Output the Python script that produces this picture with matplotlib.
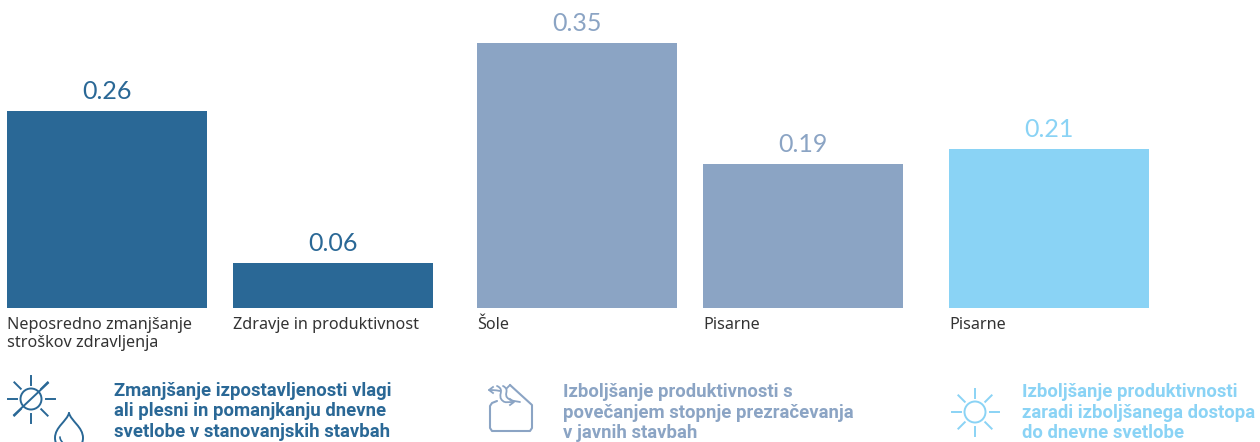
import numpy as np
from matplotlib import pyplot as plt
from matplotlib.patches import Circle, PathPatch
from matplotlib.path import Path

# values
categories = ["Neposredno zmanjšanje\nstroškov zdravljenja", "Zdravje in produktivnost", "Šole", "Pisarne", "Pisarne"]
values = [0.26, 0.06, 0.35, 0.19, 0.21]
value_labels = ["0.26", "0.06", "0.35", "0.19", "0.21"]
headings = [
    ["Zmanjšanje izpostavljenosti vlagi", "ali plesni in pomanjkanju dnevne", "svetlobe v stanovanjskih stavbah"],
    ["Izboljšanje produktivnosti s", "povečanjem stopnje prezračevanja", "v javnih stavbah"],
    ["Izboljšanje produktivnosti", "zaradi izboljšanega dostopa", "do dnevne svetlobe"],
]

dark = "#2a6896"
mid = "#8ba4c4"
light = "#8ad3f5"
bar_colors = [dark, dark, mid, mid, light]
bar_left = [7, 233, 477, 703, 949]
bar_width = 200
heading_x = [114, 563, 1022]
heading_y = [396, 397, 397]
heading_step = [20.5, 20.5, 20.5]
heading_colors = [dark, mid, light]

fig = plt.figure(figsize=(12.6, 4.42), dpi=100)

# bars, one data unit is 757 pixels and the baseline sits at pixel 308
ax = fig.add_axes([0, 0, 1, 1])
ax.set_xlim(0, 1260)
ax.set_ylim(-134 / 757, 308 / 757)
ax.axis("off")
ax.bar(bar_left, values, width=bar_width, align="edge", color=bar_colors)
for x, v, lab, c in zip(bar_left, values, value_labels, bar_colors):
    ax.annotate(lab, (x + bar_width / 2, v), xytext=(0, 8), textcoords="offset pixels",
                ha="center", va="bottom", color=c, fontsize=18, family="Lato")

# overlay in pixel coordinates for the labels and icons
ov = fig.add_axes([0, 0, 1, 1])
ov.set_xlim(0, 1260)
ov.set_ylim(442, 0)
ov.axis("off")
ov.patch.set_alpha(0)

for x, cat in zip(bar_left, categories):
    for i, line in enumerate(cat.split("\n")):
        ov.text(x, 329 + i * 18, line, color="#333333", fontsize=11.65, family="Noto Sans", va="baseline")

for x, y0, step, lines, c in zip(heading_x, heading_y, heading_step, headings, heading_colors):
    for i, line in enumerate(lines):
        ov.text(x, y0 + i * step, line, color=c, fontsize=13.3, family="Roboto",
                fontweight="bold", va="baseline")


def sun(cx, cy, r, c):
    ov.add_patch(Circle((cx, cy), r, fill=False, ec=c, lw=1.4))
    for a in np.arange(0, 360, 45):
        t = np.radians(a)
        ov.plot([cx + (r + 4) * np.cos(t), cx + (r + 13) * np.cos(t)],
                [cy + (r + 4) * np.sin(t), cy + (r + 13) * np.sin(t)], color=c, lw=1.4)


def curve(verts, c, lw=1.4):
    codes = [Path.MOVETO] + [Path.CURVE4] * (len(verts) - 1)
    ov.add_patch(PathPatch(Path(verts, codes), fill=False, ec=c, lw=lw, capstyle="round"))


# icon 1, crossed sun and drop
sun(31, 399, 10.5, dark)
ov.plot([14, 48], [415, 383], color=dark, lw=1.4)
curve([(69, 413), (67, 421), (55, 427), (55, 438), (55, 441), (56, 444), (58, 446)], dark)
curve([(69, 413), (71, 421), (83, 427), (83, 438), (83, 441), (82, 444), (80, 446)], dark)
curve([(60, 437), (60, 440), (62, 442), (64, 444)], dark, 1.2)

# icon 2, house with air flow
house_x = [510, 532, 532, 530, 492, 490, 490, 492, 497]
house_y = [385, 405, 428, 431, 431, 428, 406, 403, 401]
ov.plot(house_x, house_y, color=mid, lw=1.5, solid_joinstyle="round", solid_capstyle="round")
curve([(497, 386), (506, 390), (496, 396), (503, 401), (505, 403), (508, 402), (513, 402)], mid, 1.3)
curve([(503, 386), (511, 390), (502, 395), (509, 399), (511, 401), (515, 401), (520, 402)], mid, 1.3)
curve([(489, 390), (492, 390), (495, 390), (500, 391)], mid, 1.3)
ov.plot([493, 489, 493], [387, 390, 393], color=mid, lw=1.3)
ov.plot([510, 514, 510], [399, 402, 405], color=mid, lw=1.3)
ov.plot([507, 510], [388, 385], color=mid, lw=1.3)

# icon 3, sun
sun(975, 412, 10.5, light)

fig.savefig("out.png", dpi=100)
